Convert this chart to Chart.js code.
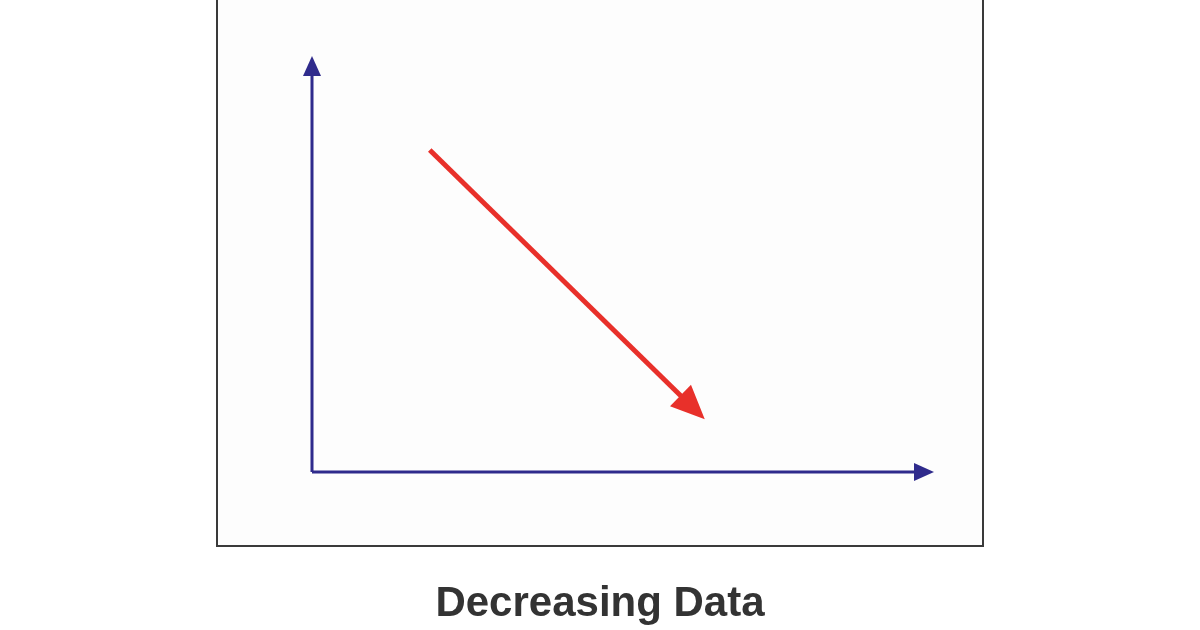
<!DOCTYPE html>
<html>
<head>
<meta charset="utf-8">
<script src="https://cdn.jsdelivr.net/npm/chart.js@4/dist/chart.umd.min.js"></script>
<style>
  body { margin: 0; width: 1200px; height: 630px; background: #fff; position: relative; overflow: hidden; }
  #frame { position: absolute; left: 216px; top: 0; width: 764px; height: 545px; border: 2px solid #3a3a3a; border-top: none; background: #fdfdfd; }
  #wrap { position: absolute; left: 0; top: 0; width: 1200px; height: 630px; }
  #title { position: absolute; left: 0; width: 1200px; top: 578px; text-align: center;
           font: bold 42px "Liberation Sans", Arial, sans-serif; color: #333; }
</style>
</head>
<body>
<div id="frame"></div>
<div id="wrap"><canvas id="chart" width="1200" height="630"></canvas></div>
<div id="title">Decreasing Data</div>
<script>
// Values (axis units 0..10)
const trendX = [1.93, 6.2];
const trendY = [7.97, 1.66];
const xAxisX = [0, 10];
const xAxisY = [0, 0];
const yAxisX = [0, 0];
const yAxisY = [0, 10];

const pts = (xs, ys) => xs.map((x, i) => ({ x: x, y: ys[i] }));

// draws an arrowhead at the last point of each dataset
const arrowHeads = {
    id: 'arrowHeads',
    afterDatasetsDraw(chart) {
        const ctx = chart.ctx;
        chart.data.datasets.forEach((ds, i) => {
            const meta = chart.getDatasetMeta(i).data;
            const a = meta[meta.length - 2], b = meta[meta.length - 1];
            const ang = Math.atan2(b.y - a.y, b.x - a.x);
            const len = ds.headLen, w = ds.headWidth;
            ctx.save();
            ctx.translate(b.x, b.y);
            ctx.rotate(ang);
            ctx.beginPath();
            ctx.moveTo(len * 0.6, 0);
            ctx.lineTo(-len * 0.4, -w / 2);
            ctx.lineTo(-len * 0.4, w / 2);
            ctx.closePath();
            ctx.fillStyle = ds.borderColor;
            ctx.fill();
            ctx.restore();
        });
    }
};

new Chart(document.getElementById('chart'), {
    type: 'line',
    data: {
        datasets: [
            { data: pts(xAxisX, xAxisY), borderColor: '#2f2b8c', borderWidth: 3, pointRadius: 0, headLen: 20, headWidth: 18 },
            { data: pts(yAxisX, yAxisY), borderColor: '#2f2b8c', borderWidth: 3, pointRadius: 0, headLen: 20, headWidth: 18 },
            { data: pts(trendX, trendY), borderColor: '#e8302a', borderWidth: 5, pointRadius: 0, headLen: 34, headWidth: 30 }
        ]
    },
    options: {
        responsive: false,
        animation: false,
        clip: false,
        layout: { padding: { left: 312, right: 278, top: 68, bottom: 158 } },
        plugins: { legend: { display: false }, tooltip: { enabled: false } },
        scales: {
            x: { type: 'linear', min: 0, max: 10, display: false },
            y: { type: 'linear', min: 0, max: 10, display: false }
        }
    },
    plugins: [arrowHeads]
});
</script>
</body>
</html>
